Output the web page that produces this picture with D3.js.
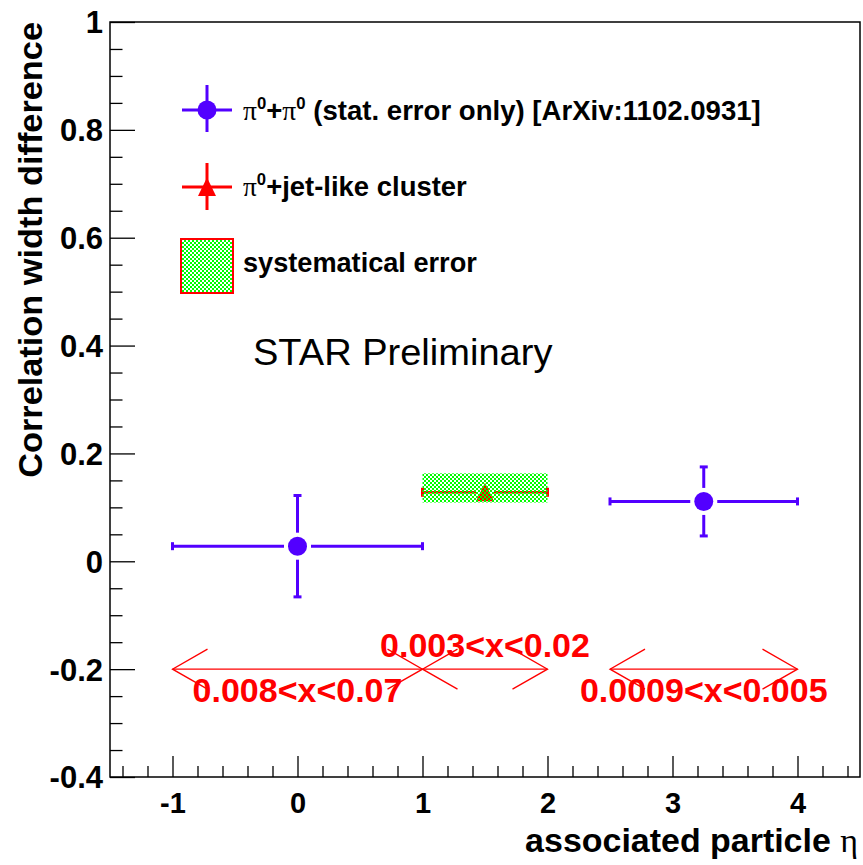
<!DOCTYPE html>
<html>
<head>
<meta charset="utf-8">
<script src="https://cdn.jsdelivr.net/npm/d3@7"></script>
<style>
  html, body { margin: 0; padding: 0; background: #fff; }
  svg { display: block; }
</style>
</head>
<body>
<script>
// ---------------- data ----------------
const xTickValues = [-1, 0, 1, 2, 3, 4];
const xTickLabels = ["-1", "0", "1", "2", "3", "4"];
const yTickValues = [-0.4, -0.2, 0, 0.2, 0.4, 0.6, 0.8, 1];
const yTickLabels = ["-0.4", "-0.2", "0", "0.2", "0.4", "0.6", "0.8", "1"];

// pi0 + pi0 (stat. error only)
const pipiEta      = [0, 3.25];
const pipiEtaLow   = [-1, 2.5];
const pipiEtaHigh  = [1, 4];
const pipiWidth    = [0.028, 0.111];
const pipiStatErr  = [0.094, 0.064];

// pi0 + jet-like cluster
const jetEta      = [1.5];
const jetEtaLow   = [1];
const jetEtaHigh  = [2];
const jetWidth    = [0.128];
const jetSysLow   = [0.109];
const jetSysHigh  = [0.163];

// x (momentum fraction) ranges shown as arrows
const rangeEtaLow  = [-1, 1, 2.5];
const rangeEtaHigh = [1, 2, 4];
const rangeLevel   = [-0.2, -0.2, -0.2];
const rangeLabels  = ["0.008<x<0.07", "0.003<x<0.02", "0.0009<x<0.005"];
const rangeLabelSide = ["below", "above", "below"];

const legendLabels = ["(stat. error only) [ArXiv:1102.0931]", "+jet-like cluster", "systematical error"];

// ---------------- setup ----------------
const W = 863, H = 865;
const BLUE = "#5200ff", RED = "#ff0000", GREEN = "#00ff00";
const SANS = "'Liberation Sans', Arial, Helvetica, sans-serif";
const SERIF = "'Liberation Serif', 'DejaVu Serif', serif";

const svg = d3.select("body").append("svg").attr("width", W).attr("height", H);

const defs = svg.append("defs");
const pat = defs.append("pattern").attr("id", "chk")
  .attr("width", 4).attr("height", 4).attr("patternUnits", "userSpaceOnUse");
pat.append("rect").attr("x", 0).attr("y", 0).attr("width", 2).attr("height", 2).attr("fill", GREEN);
pat.append("rect").attr("x", 2).attr("y", 2).attr("width", 2).attr("height", 2).attr("fill", GREEN);

const x = d3.scaleLinear().domain([-1.5, 4.5]).range([110, 860]);
const y = d3.scaleLinear().domain([-0.4, 1]).range([777, 22]);

// frame
svg.append("rect")
  .attr("x", x.range()[0]).attr("y", y.range()[1])
  .attr("width", x.range()[1] - x.range()[0])
  .attr("height", y.range()[0] - y.range()[1])
  .attr("fill", "none").attr("stroke", "#000").attr("stroke-width", 1.5);

// axes
const xMinor = d3.range(-1.4, 4.41, 0.2).filter(v => Math.abs(v - Math.round(v)) > 1e-6);
const yMinor = d3.range(-0.35, 1.0, 0.05).filter(v => Math.abs(v * 5 - Math.round(v * 5)) > 1e-6);

function styleAxis(g) {
  g.select(".domain").remove();
  g.selectAll(".tick line").attr("stroke", "#000").attr("stroke-width", 1.3);
  g.selectAll(".tick text").attr("fill", "#000")
    .style("font-family", SANS).style("font-weight", "bold");
}

svg.append("g").attr("transform", `translate(0,${y.range()[0]})`)
  .call(d3.axisBottom(x).tickValues(xMinor).tickSize(-11).tickFormat(""))
  .call(styleAxis);
svg.append("g").attr("transform", `translate(0,${y.range()[0]})`)
  .call(d3.axisBottom(x).tickValues(xTickValues).tickSize(-21).tickPadding(15)
    .tickFormat((d, i) => xTickLabels[i]))
  .call(styleAxis)
  .call(g => g.selectAll(".tick text").style("font-size", "29px"));

svg.append("g").attr("transform", `translate(${x.range()[0]},0)`)
  .call(d3.axisLeft(y).tickValues(yMinor).tickSize(-12.5).tickFormat(""))
  .call(styleAxis);
svg.append("g").attr("transform", `translate(${x.range()[0]},0)`)
  .call(d3.axisLeft(y).tickValues(yTickValues).tickSize(-25).tickPadding(7)
    .tickFormat((d, i) => yTickLabels[i]))
  .call(styleAxis)
  .call(g => g.selectAll(".tick text").style("font-size", "31px").attr("dy", "0.35em"));

// helper to create text fitted to a target width
function fittedText(tx, ty, rot, anchor, target, build) {
  const g = svg.append("g").attr("transform", `translate(${tx},${ty}) rotate(${rot})`);
  const t = g.append("text").attr("x", 0).attr("y", 0).attr("text-anchor", anchor);
  build(t);
  const w = t.node().getBBox().width;
  if (w > 0) t.attr("transform", `scale(${target / w},1)`);
  return t;
}

// axis titles
fittedText(42, 22, -90, "end", 456, t => {
  t.style("font-family", SANS).style("font-weight", "bold").style("font-size", "34px")
   .text("Correlation width difference");
});
fittedText(858, 852, 0, "end", 333, t => {
  t.style("font-family", SANS).style("font-weight", "bold").style("font-size", "34px");
  t.append("tspan").text("associated particle ");
  t.append("tspan").style("font-family", SERIF).style("font-weight", "normal").text("η");
});

// ---------------- range arrows ----------------
const arrowG = svg.append("g").attr("stroke", RED).attr("stroke-width", 1.3).attr("fill", "none");
const headL = 35, headW = 20;
rangeEtaLow.forEach((lo, i) => {
  const x0 = x(lo), x1 = x(rangeEtaHigh[i]), yy = y(rangeLevel[i]);
  arrowG.append("line").attr("x1", x0).attr("x2", x1).attr("y1", yy).attr("y2", yy);
  [[x0, 1], [x1, -1]].forEach(([tip, dir]) => {
    arrowG.append("path").attr("d",
      `M${tip + dir * headL},${yy - headW}L${tip},${yy}L${tip + dir * headL},${yy + headW}`);
  });
});
rangeLabels.forEach((lab, i) => {
  const cx = x((rangeEtaLow[i] + rangeEtaHigh[i]) / 2);
  const yy = y(rangeLevel[i]) + (rangeLabelSide[i] === "below" ? 33 : -12);
  svg.append("text").attr("x", cx).attr("y", yy).attr("text-anchor", "middle")
    .attr("fill", RED).style("font-family", SANS).style("font-weight", "bold")
    .style("font-size", "34px").text(lab);
});

// ---------------- pi0+jet-like cluster ----------------
const jetG = svg.append("g");
const triPath = (cx, cy) => `M${cx},${cy - 9.5}L${cx + 9},${cy + 9}L${cx - 9},${cy + 9}Z`;
jetEta.forEach((e, i) => {
  const cx = x(e), cy = y(jetWidth[i]);
  const xl = x(jetEtaLow[i]), xh = x(jetEtaHigh[i]);
  jetG.append("line").attr("x1", xl).attr("x2", cx - 9).attr("y1", cy).attr("y2", cy)
    .attr("stroke", RED).attr("stroke-width", 2.5);
  jetG.append("line").attr("x1", cx + 9).attr("x2", xh).attr("y1", cy).attr("y2", cy)
    .attr("stroke", RED).attr("stroke-width", 2.5);
  [xl, xh].forEach(xx => jetG.append("line").attr("x1", xx).attr("x2", xx)
    .attr("y1", cy - 4.5).attr("y2", cy + 4.5).attr("stroke", RED).attr("stroke-width", 3));
  jetG.append("path").attr("d", triPath(cx, cy)).attr("fill", RED);
  jetG.append("rect").attr("x", xl).attr("y", y(jetSysHigh[i]))
    .attr("width", xh - xl).attr("height", y(jetSysLow[i]) - y(jetSysHigh[i]))
    .attr("fill", "url(#chk)");
});

// ---------------- pi0+pi0 ----------------
const ppG = svg.append("g").attr("stroke", BLUE).attr("stroke-width", 3);
const R = 9.5, GAP = 4, CAP = 4;
pipiEta.forEach((e, i) => {
  const cx = x(e), cy = y(pipiWidth[i]);
  const xl = x(pipiEtaLow[i]), xh = x(pipiEtaHigh[i]);
  const yt = y(pipiWidth[i] + pipiStatErr[i]), yb = y(pipiWidth[i] - pipiStatErr[i]);
  ppG.append("line").attr("x1", xl).attr("x2", cx - R - GAP).attr("y1", cy).attr("y2", cy);
  ppG.append("line").attr("x1", cx + R + GAP).attr("x2", xh).attr("y1", cy).attr("y2", cy);
  ppG.append("line").attr("x1", cx).attr("x2", cx).attr("y1", yt).attr("y2", cy - R - GAP);
  ppG.append("line").attr("x1", cx).attr("x2", cx).attr("y1", cy + R + GAP).attr("y2", yb);
  [xl, xh].forEach(xx => ppG.append("line").attr("x1", xx).attr("x2", xx)
    .attr("y1", cy - CAP).attr("y2", cy + CAP));
  [yt, yb].forEach(yy => ppG.append("line").attr("x1", cx - CAP).attr("x2", cx + CAP)
    .attr("y1", yy).attr("y2", yy));
  svg.append("circle").attr("cx", cx).attr("cy", cy).attr("r", R).attr("fill", BLUE);
});

// ---------------- legend ----------------
const lg = svg.append("g");
// entry 1
lg.append("line").attr("x1", 182).attr("x2", 232).attr("y1", 110).attr("y2", 110).attr("stroke", BLUE).attr("stroke-width", 3);
lg.append("line").attr("x1", 207).attr("x2", 207).attr("y1", 85).attr("y2", 132).attr("stroke", BLUE).attr("stroke-width", 3);
lg.append("circle").attr("cx", 207).attr("cy", 110).attr("r", 9.5).attr("fill", BLUE);
// entry 2
lg.append("line").attr("x1", 182).attr("x2", 232).attr("y1", 187).attr("y2", 187).attr("stroke", RED).attr("stroke-width", 3);
lg.append("line").attr("x1", 207).attr("x2", 207).attr("y1", 163).attr("y2", 210).attr("stroke", RED).attr("stroke-width", 3);
lg.append("path").attr("d", triPath(207, 187)).attr("fill", RED);
// entry 3
lg.append("rect").attr("x", 181).attr("y", 239).attr("width", 52).attr("height", 54)
  .attr("fill", "url(#chk)").attr("stroke", RED).attr("stroke-width", 2);

function piZero(t) {
  t.append("tspan").style("font-family", SERIF).style("font-weight", "normal").style("font-size", "28px").text("π");
  t.append("tspan").style("font-size", "17px").attr("dy", -11).text("0");
}
fittedText(243, 120, 0, "start", 518, t => {
  t.style("font-family", SANS).style("font-weight", "bold").style("font-size", "28px");
  piZero(t);
  t.append("tspan").attr("dy", 11).text("+");
  piZero(t);
  t.append("tspan").attr("dy", 11).text(" " + legendLabels[0]);
});
fittedText(243, 196, 0, "start", 224, t => {
  t.style("font-family", SANS).style("font-weight", "bold").style("font-size", "28px");
  piZero(t);
  t.append("tspan").attr("dy", 11).text(legendLabels[1]);
});
fittedText(243, 272, 0, "start", 234, t => {
  t.style("font-family", SANS).style("font-weight", "bold").style("font-size", "28px")
   .text(legendLabels[2]);
});

// STAR Preliminary
fittedText(253, 365, 0, "start", 300, t => {
  t.style("font-family", SANS).style("font-weight", "normal").style("font-size", "37px")
   .text("STAR Preliminary");
});
</script>
</body>
</html>
